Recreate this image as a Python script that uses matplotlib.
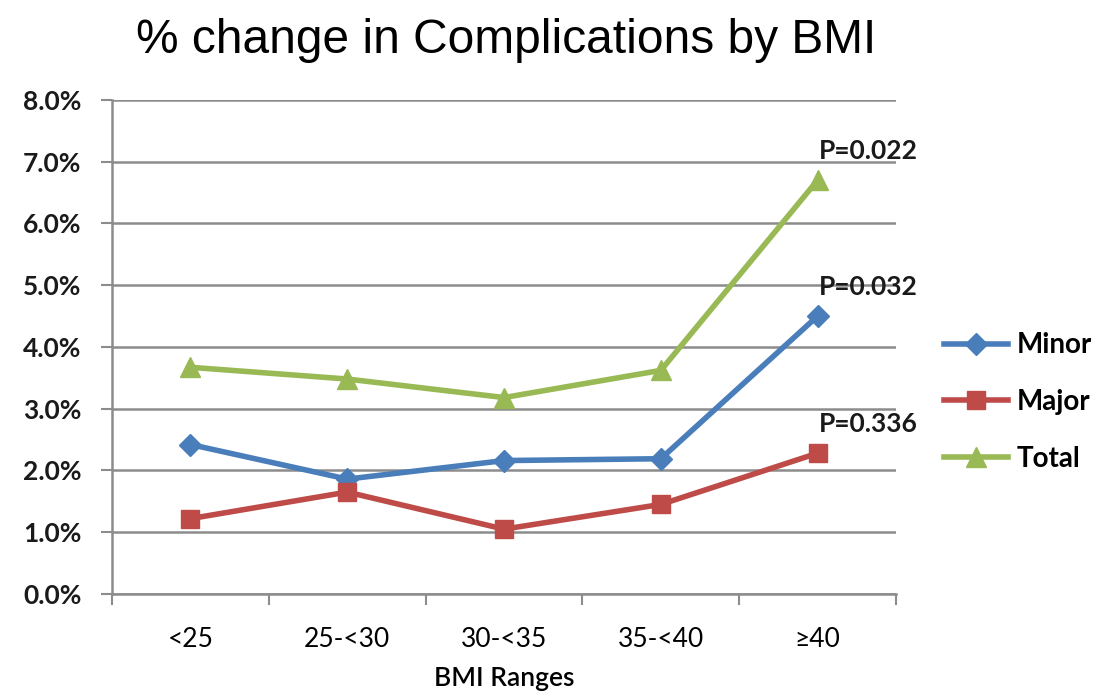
import matplotlib.pyplot as plt
from matplotlib.ticker import FuncFormatter, FixedLocator

bmi_ranges = ["<25", "25-<30", "30-<35", "35-<40", "\u226540"]
minor = [2.42, 1.86, 2.16, 2.19, 4.50]
major = [1.22, 1.65, 1.05, 1.45, 2.28]
total = [3.67, 3.48, 3.18, 3.62, 6.70]
p_labels = ["P=0.032", "P=0.336", "P=0.022"]

plt.rcParams['font.family'] = ['Lato', 'DejaVu Sans']

fig = plt.figure(figsize=(11.09, 6.98), dpi=100)
ax = fig.add_axes([0.101, 0.149, 0.707, 0.708])

x = list(range(len(bmi_ranges)))
series = [
    ("Minor", minor, "#4A7EBB", "D", 11),
    ("Major", major, "#BE4B48", "s", 13),
    ("Total", total, "#98B954", "^", 15),
]
for (name, vals, col, mk, ms), plab in zip(series, p_labels):
    ax.plot(x, vals, color=col, lw=4, marker=mk, ms=ms, label=name,
            markeredgecolor=col, zorder=3)
    ax.annotate(plab, (x[-1], vals[-1]), xytext=(1, 21),
                textcoords="offset points", fontsize=19, fontweight="bold",
                color="#1a1a1a", va="center", ha="left")

ax.set_xlim(-0.5, 4.5)
ax.set_ylim(0, 8)
ax.set_yticks(range(0, 9))
ax.yaxis.set_major_formatter(FuncFormatter(lambda v, p: f"{v:.1f}%"))
ax.grid(axis="y", color="#8c8c8c", lw=1.8)
ax.set_axisbelow(True)

ax.set_xticks(x)
ax.set_xticklabels(bmi_ranges, fontsize=19)
ax.tick_params(axis="x", length=0, pad=24)
ax.xaxis.set_minor_locator(FixedLocator([i - 0.5 for i in range(6)]))
ax.tick_params(axis="x", which="minor", length=8, width=1.5, color="#8c8c8c")
ax.tick_params(axis="y", length=8, width=1.5, color="#8c8c8c", labelsize=19,
               pad=14, labelcolor="#1a1a1a")
for lbl in ax.get_yticklabels():
    lbl.set_fontweight("bold")

for side in ["top", "right"]:
    ax.spines[side].set_visible(False)
for side in ["left", "bottom"]:
    ax.spines[side].set_color("#8c8c8c")
    ax.spines[side].set_linewidth(1.8)

ax.set_xlabel("BMI Ranges", fontsize=19, fontweight="semibold", labelpad=10)
fig.text(0.456, 0.942, "% change in Complications by BMI", ha="center", va="center",
         fontsize=34.5, family="Liberation Sans")

leg = fig.legend(loc="center left", bbox_to_anchor=(0.829, 0.424),
                 bbox_transform=fig.transFigure, frameon=False,
                 handlelength=2.3, labelspacing=1.1, handletextpad=0.3,
                 prop={"weight": "bold", "size": 20})

fig.savefig("out.png", dpi=100)
